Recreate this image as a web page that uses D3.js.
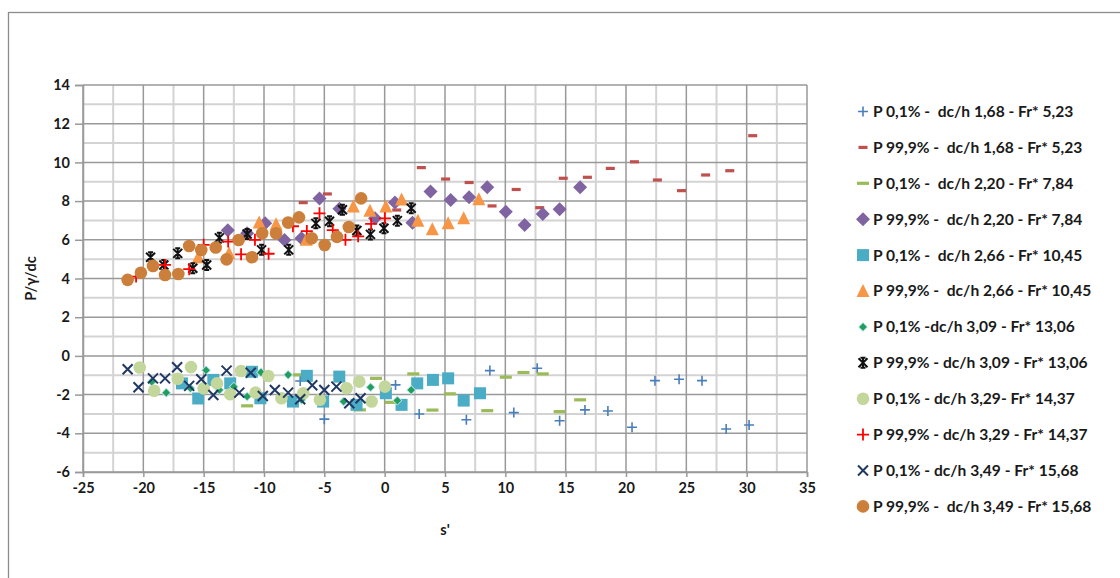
<!DOCTYPE html>
<html>
<head>
<meta charset="utf-8">
<script src="https://cdn.jsdelivr.net/npm/d3@7"></script>
<style>
  html, body { margin: 0; padding: 0; background: #fff; }
  svg { display: block; font-family: Lato, "Open Sans", sans-serif; }
  .legend-label { white-space: pre; }
</style>
</head>
<body>
<svg id="chart" width="1120" height="578"></svg>
<script>
// ---- data: s' (x) versus P/γ/dc (y), one array of [x, y] pairs per run ----
const p01_168 = [[-7.0,-1.3],[-5.0,-3.27],[0.9,-1.5],[2.86,-3.0],[6.77,-3.3],[8.72,-0.76],[10.7,-2.93],[12.64,-0.64],[14.5,-3.35],[16.6,-2.79],[18.5,-2.85],[20.5,-3.69],[22.4,-1.28],[24.4,-1.21],[26.3,-1.28],[28.3,-3.78],[30.2,-3.57]];
const p999_168 = [[-6.75,7.92],[-4.75,8.37],[1.0,7.54],[3.04,9.73],[5.05,9.14],[7.0,8.96],[8.9,7.75],[10.9,8.6],[12.85,7.66],[14.8,9.18],[16.8,9.23],[18.7,9.69],[20.7,10.03],[22.6,9.09],[24.6,8.54],[26.6,9.35],[28.6,9.57],[30.5,11.38]];
const p01_220 = [[-11.4,-2.58],[-7.1,-0.98],[-2.05,-2.79],[-0.72,-1.16],[0.5,-2.4],[2.37,-0.93],[3.96,-2.8],[5.4,-1.96],[8.5,-2.83],[10.04,-1.1],[11.5,-0.86],[13.1,-0.93],[14.5,-2.88],[16.2,-2.27]];
const p999_220 = [[-13.0,6.5],[-11.4,6.34],[-9.9,6.86],[-8.3,5.99],[-6.9,6.08],[-5.4,8.14],[-3.75,7.6],[-0.8,7.11],[0.85,7.93],[2.3,6.88],[3.8,8.49],[5.47,8.06],[7.0,8.2],[8.5,8.71],[10.04,7.45],[11.6,6.77],[13.1,7.33],[14.5,7.58],[16.2,8.71]];
const p01_266 = [[-16.8,-1.42],[-15.45,-2.2],[-14.2,-1.24],[-12.8,-1.42],[-11.0,-0.82],[-10.3,-2.19],[-7.6,-2.36],[-6.45,-1.03],[-5.1,-2.36],[-3.76,-1.07],[-2.33,-2.53],[0.1,-1.93],[1.4,-2.53],[2.7,-1.42],[4.0,-1.24],[5.26,-1.16],[6.55,-2.31],[7.9,-1.93]];
const p999_266 = [[-15.45,5.1],[-12.9,5.3],[-10.4,6.9],[-9.0,6.8],[-6.5,6.0],[-2.6,7.72],[-1.22,7.5],[0.1,7.72],[1.4,8.08],[2.75,6.98],[3.95,6.55],[5.26,6.85],[6.55,7.11],[7.8,8.1]];
const p01_309 = [[-19.3,-1.33],[-18.1,-1.9],[-16.1,-1.67],[-14.8,-0.74],[-13.7,-1.76],[-12.5,-1.59],[-11.4,-2.1],[-10.25,-0.85],[-8.0,-0.98],[-6.9,-2.27],[-3.4,-2.36],[-1.17,-1.62],[1.05,-2.31],[2.2,-1.76]];
const p999_309 = [[-19.4,5.1],[-18.3,4.7],[-17.15,5.3],[-15.9,4.53],[-14.75,4.7],[-13.7,6.1],[-11.4,6.3],[-10.2,5.48],[-7.95,5.48],[-5.7,6.85],[-4.57,6.96],[-3.5,7.55],[-2.3,6.48],[-1.18,6.28],[-0.06,6.6],[1.05,6.99],[2.2,7.63]];
const p01_329 = [[-20.3,-0.6],[-19.1,-1.8],[-17.15,-1.18],[-16.05,-0.58],[-15.0,-1.68],[-13.9,-1.42],[-12.8,-1.98],[-11.9,-0.78],[-10.7,-1.9],[-9.65,-1.04],[-8.55,-2.19],[-6.74,-1.93],[-5.37,-2.27],[-3.16,-1.67],[-2.1,-1.33],[-1.08,-2.36],[0.02,-1.59]];
const p999_329 = [[-20.6,4.1],[-18.2,4.7],[-16.2,4.48],[-15.0,5.74],[-12.97,5.91],[-11.9,5.25],[-10.75,6.0],[-9.62,5.28],[-7.6,6.7],[-6.45,6.45],[-5.4,7.37],[-4.3,6.5],[-3.25,6.0],[-2.2,6.18],[-1.12,6.82],[0.02,7.11]];
const p01_349 = [[-21.3,-0.69],[-20.4,-1.62],[-19.2,-1.16],[-18.2,-1.16],[-17.2,-0.59],[-16.2,-1.55],[-15.2,-1.21],[-14.2,-2.02],[-13.1,-0.76],[-12.05,-1.9],[-11.1,-0.87],[-10.1,-2.07],[-9.1,-1.76],[-8.0,-1.9],[-7.0,-2.24],[-6.0,-1.52],[-5.0,-1.76],[-4.0,-1.59],[-2.93,-2.45],[-2.0,-2.19]];
const p999_349 = [[-21.3,3.93],[-20.2,4.3],[-19.2,4.65],[-18.2,4.18],[-17.1,4.23],[-16.2,5.68],[-15.2,5.47],[-14.0,5.6],[-13.1,4.99],[-12.1,5.99],[-11.0,5.1],[-10.15,6.34],[-9.0,6.34],[-8.0,6.89],[-7.1,7.16],[-6.05,6.08],[-4.97,5.73],[-3.95,6.15],[-2.97,6.66],[-1.95,8.14]];

const seriesLabels = [
  "P 0,1% -  dc/h 1,68 - Fr* 5,23",
  "P 99,9% -  dc/h 1,68 - Fr* 5,23",
  "P 0,1% -  dc/h 2,20 - Fr* 7,84",
  "P 99,9% -  dc/h 2,20 - Fr* 7,84",
  "P 0,1% -  dc/h 2,66 - Fr* 10,45",
  "P 99,9% -  dc/h 2,66 - Fr* 10,45",
  "P 0,1% -dc/h 3,09 - Fr* 13,06",
  "P 99,9% - dc/h 3,09 - Fr* 13,06",
  "P 0,1% - dc/h 3,29- Fr* 14,37",
  "P 99,9% - dc/h 3,29 - Fr* 14,37",
  "P 0,1% - dc/h 3,49 - Fr* 15,68",
  "P 99,9% -  dc/h 3,49 - Fr* 15,68"
];
const xTicks = [-25,-20,-15,-10,-5,0,5,10,15,20,25,30,35];
const yTicks = [14,12,10,8,6,4,2,0,-2,-4,-6];
const xTitle = "s'";
const yTitle = "P/γ/dc";

// marker style per run (shape, colour)
const markerKinds = ["plus","dash","longdash","diamond","square","triangle","smalldiamond","star","circle","bigplus","cross","circle"];
const markerColors = ["#4a7ebb","#c0504d","#9bbb59","#8064a2","#4bacc6","#f79646","#1f9e5c","#111111","#c3d69b","#ff0000","#1f3864","#cc7f3a"];
const seriesData = [p01_168,p999_168,p01_220,p999_220,p01_266,p999_266,p01_309,p999_309,p01_329,p999_329,p01_349,p999_349];

const series = seriesData.map((pts, i) => ({ label: seriesLabels[i], pts, kind: markerKinds[i], color: markerColors[i] }));

// ---- layout ----
const svg = d3.select("#chart");
const plot = { left: 83, right: 807, top: 85, bottom: 472 };
const x = d3.scaleLinear().domain([-25, 35]).range([plot.left, plot.right]);
const y = d3.scaleLinear().domain([-6, 14]).range([plot.bottom, plot.top]);

// outer frame of the chart area
svg.append("rect").attr("x", 8.5).attr("y", 12.5).attr("width", 1200).attr("height", 700)
  .attr("fill", "none").attr("stroke", "#8c8c8c").attr("stroke-width", 1.3);

// minor grid
const minorX = d3.range(-22.5, 35, 5);
const minorY = d3.range(-5, 14, 2);
svg.append("g").selectAll("line").data(minorX).join("line")
  .attr("x1", d => x(d)).attr("x2", d => x(d)).attr("y1", plot.top).attr("y2", plot.bottom)
  .attr("stroke", "#d3d3d3").attr("stroke-width", 2);
svg.append("g").selectAll("line").data(minorY).join("line")
  .attr("y1", d => y(d)).attr("y2", d => y(d)).attr("x1", plot.left).attr("x2", plot.right)
  .attr("stroke", "#d3d3d3").attr("stroke-width", 2);

// major grid
svg.append("g").selectAll("line").data(xTicks).join("line")
  .attr("x1", d => x(d)).attr("x2", d => x(d)).attr("y1", plot.top).attr("y2", plot.bottom)
  .attr("stroke", "#999").attr("stroke-width", 1.5);
svg.append("g").selectAll("line").data(yTicks).join("line")
  .attr("y1", d => y(d)).attr("y2", d => y(d)).attr("x1", plot.left).attr("x2", plot.right)
  .attr("stroke", "#999").attr("stroke-width", 1.5);

// axes with outward tick marks; plain hyphen for negative numbers
const plainNum = d => String(d);
const xAxis = d3.axisBottom(x).tickValues(xTicks).tickSize(5).tickPadding(6).tickFormat(plainNum);
const yAxis = d3.axisLeft(y).tickValues(yTicks).tickSize(8).tickPadding(5).tickFormat(plainNum);
const gx = svg.append("g").attr("transform", `translate(0,${plot.bottom})`).call(xAxis);
const gy = svg.append("g").attr("transform", `translate(${plot.left},0)`).call(yAxis);
[gx, gy].forEach(g => {
  g.select(".domain").attr("stroke", "#999").attr("stroke-width", 1.5);
  g.selectAll(".tick line").attr("stroke", "#999").attr("stroke-width", 1.5);
  g.selectAll(".tick text").attr("fill", "#1a1a1a").attr("font-size", 14.5).attr("font-weight", 700)
    .attr("font-family", "Lato, sans-serif");
});

// axis titles
svg.append("text").attr("x", x(5)).attr("y", 535).attr("text-anchor", "middle")
  .attr("font-size", 14.5).attr("font-weight", 700).attr("fill", "#1a1a1a").text(xTitle);
svg.append("text").attr("transform", `translate(36,${(plot.top + plot.bottom) / 2}) rotate(-90)`)
  .attr("text-anchor", "middle").attr("font-size", 14.5).attr("font-weight", 700).attr("fill", "#1a1a1a").text(yTitle);

// marker drawing
function drawMarker(g, kind, color) {
  switch (kind) {
    case "plus":
      g.append("path").attr("d", "M-5,0H5M0,-5V5").attr("stroke", color).attr("stroke-width", 1.6).attr("fill", "none"); break;
    case "bigplus":
      g.append("path").attr("d", "M-6,0H6M0,-6V6").attr("stroke", color).attr("stroke-width", 1.8).attr("fill", "none"); break;
    case "dash":
      g.append("rect").attr("x", -4.5).attr("y", -1.6).attr("width", 9).attr("height", 3.2).attr("fill", color); break;
    case "longdash":
      g.append("rect").attr("x", -6).attr("y", -1.6).attr("width", 12).attr("height", 3.2).attr("fill", color); break;
    case "diamond":
      g.append("path").attr("d", "M0,-7L7,0L0,7L-7,0Z").attr("fill", color); break;
    case "smalldiamond":
      g.append("path").attr("d", "M0,-5L5,0L0,5L-5,0Z").attr("fill", "#bfe3ee");
      g.append("path").attr("d", "M0,-3.8L3.8,0L0,3.8L-3.8,0Z").attr("fill", color); break;
    case "square":
      g.append("rect").attr("x", -6).attr("y", -6).attr("width", 12).attr("height", 12).attr("fill", color); break;
    case "triangle":
      g.append("path").attr("d", "M0,-7L6.5,6L-6.5,6Z").attr("fill", color); break;
    case "circle":
      g.append("circle").attr("r", 6.3).attr("fill", color); break;
    case "cross":
      g.append("path").attr("d", "M-5,-5L5,5M-5,5L5,-5").attr("stroke", color).attr("stroke-width", 2).attr("fill", "none"); break;
    case "star":
      g.append("path").attr("d", "M-4.5,-4.5L4.5,4.5M-4.5,4.5L4.5,-4.5M0,-5.5V5.5M-2.5,-5H2.5M-2.5,5H2.5")
        .attr("stroke", color).attr("stroke-width", 2).attr("fill", "none"); break;
  }
}

// point marks, drawn in series order so later runs sit on top
const marks = svg.append("g");
series.forEach(s => {
  marks.append("g").selectAll("g").data(s.pts).join("g")
    .attr("transform", d => `translate(${x(d[0])},${y(d[1])})`)
    .each(function () { drawMarker(d3.select(this), s.kind, s.color); });
});

// legend
const legend = svg.append("g");
series.forEach((s, i) => {
  const ly = 111.5 + i * 35.9;
  const g = legend.append("g").attr("transform", `translate(863,${ly})`);
  drawMarker(g, s.kind, s.color);
  legend.append("text").attr("class", "legend-label").attr("x", 873).attr("y", ly).attr("dy", "0.35em")
    .attr("font-size", 15.6).attr("font-weight", 700).attr("fill", "#1a1a1a").text(s.label);
});
</script>
</body>
</html>
